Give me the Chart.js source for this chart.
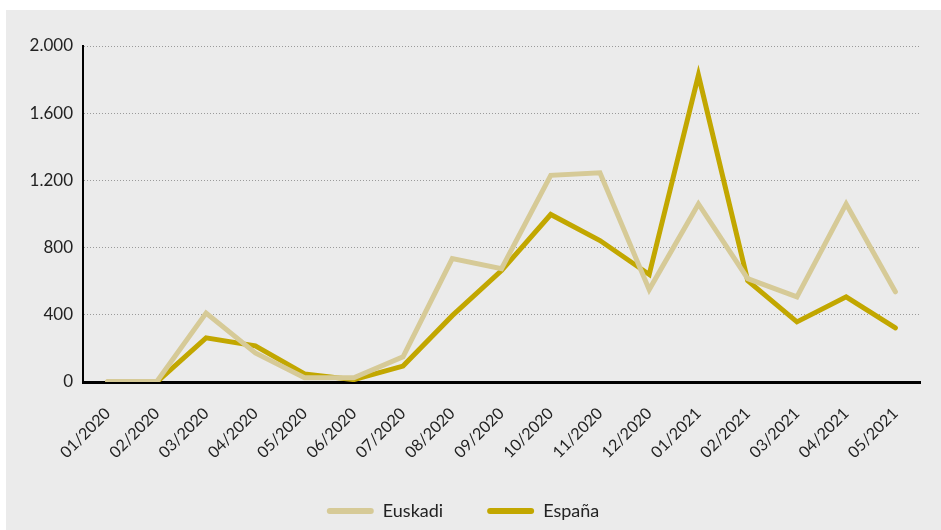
<!DOCTYPE html>
<html>
<head>
<meta charset="utf-8">
<script src="https://cdn.jsdelivr.net/npm/chart.js@4/dist/chart.umd.min.js"></script>
<style>
  html, body { margin: 0; padding: 0; background: #fff; }
  #wrap { position: absolute; left: 6px; top: 10px; width: 935px; height: 520px; background: #ebebeb; }
</style>
</head>
<body>
<div id="wrap"><canvas id="chart" width="935" height="520"></canvas></div>
<script>
const months = ['01/2020', '02/2020', '03/2020', '04/2020', '05/2020', '06/2020', '07/2020', '08/2020',
  '09/2020', '10/2020', '11/2020', '12/2020', '01/2021', '02/2021', '03/2021', '04/2021', '05/2021'];

const euskadi = [3, 3, 410, 173, 25, 25, 150, 735, 675, 1230, 1245, 550, 1060, 615, 507, 1060, 537];
const espana = [0, 0, 263, 215, 48, 14, 95, 395, 663, 997, 842, 640, 1827, 603, 358, 507, 322];

const yTicks = [0, 400, 800, 1200, 1600, 2000];

// thousands with a dot, like 2.000
const fmt = v => String(v).replace(/\B(?=(\d{3})+(?!\d))/g, '.');

const ctx = document.getElementById('chart').getContext('2d');

new Chart(ctx, {
  type: 'line',
  data: {
    labels: months,
    datasets: [{
      label: 'Euskadi',
      data: euskadi,
      borderColor: '#d6ca97',
      backgroundColor: '#d6ca97',
      borderWidth: 5,
      pointRadius: 0,
      borderCapStyle: 'round',
      tension: 0
    }, {
      label: 'España',
      data: espana,
      borderColor: '#c2a700',
      backgroundColor: '#c2a700',
      borderWidth: 5,
      pointRadius: 0,
      borderCapStyle: 'round',
      tension: 0
    }]
  },
  options: {
    responsive: false,
    animation: false,
    layout: { padding: { top: 36, right: 21, left: 0, bottom: 7 } },
    plugins: {
      tooltip: { enabled: false },
      legend: {
        position: 'bottom',
        maxHeight: 65,
        labels: {
          color: '#222',
          font: { family: 'Lato', size: 18 },
          boxWidth: 47,
          boxHeight: 6,
          padding: 44,
          useBorderRadius: true,
          borderRadius: 3,
          generateLabels: function (chart) {
            return Chart.defaults.plugins.legend.labels.generateLabels(chart).map(item => {
              item.lineWidth = 0;
              item.strokeStyle = 'transparent';
              return item;
            });
          }
        }
      }
    },
    scales: {
      x: {
        offset: true,
        grid: { display: false, drawTicks: false },
        border: { display: true, color: '#000', width: 3 },
        ticks: {
          color: '#222',
          font: { family: 'Lato', size: 16 },
          minRotation: 45,
          maxRotation: 45,
          padding: 22,
          autoSkip: false
        },
        afterFit: scale => { scale.height = 76; }
      },
      y: {
        min: 0,
        max: 2000,
        afterBuildTicks: scale => { scale.ticks = yTicks.map(v => ({ value: v })); },
        grid: { color: '#9a9a9a', lineWidth: 1, drawTicks: false },
        border: { display: true, color: '#000', width: 2, dash: [1, 2] },
        ticks: {
          color: '#222',
          font: { family: 'Lato', size: 17 },
          padding: 10,
          callback: v => fmt(v)
        },
        afterFit: scale => { scale.width = 77; }
      }
    }
  },
  plugins: [{
    // let the rotated month labels run past the axis box instead of being clipped
    id: 'unclipLabels',
    afterLayout: chart => { chart.scales.x.bottom += 20; }
  }]
});
</script>
</body>
</html>
